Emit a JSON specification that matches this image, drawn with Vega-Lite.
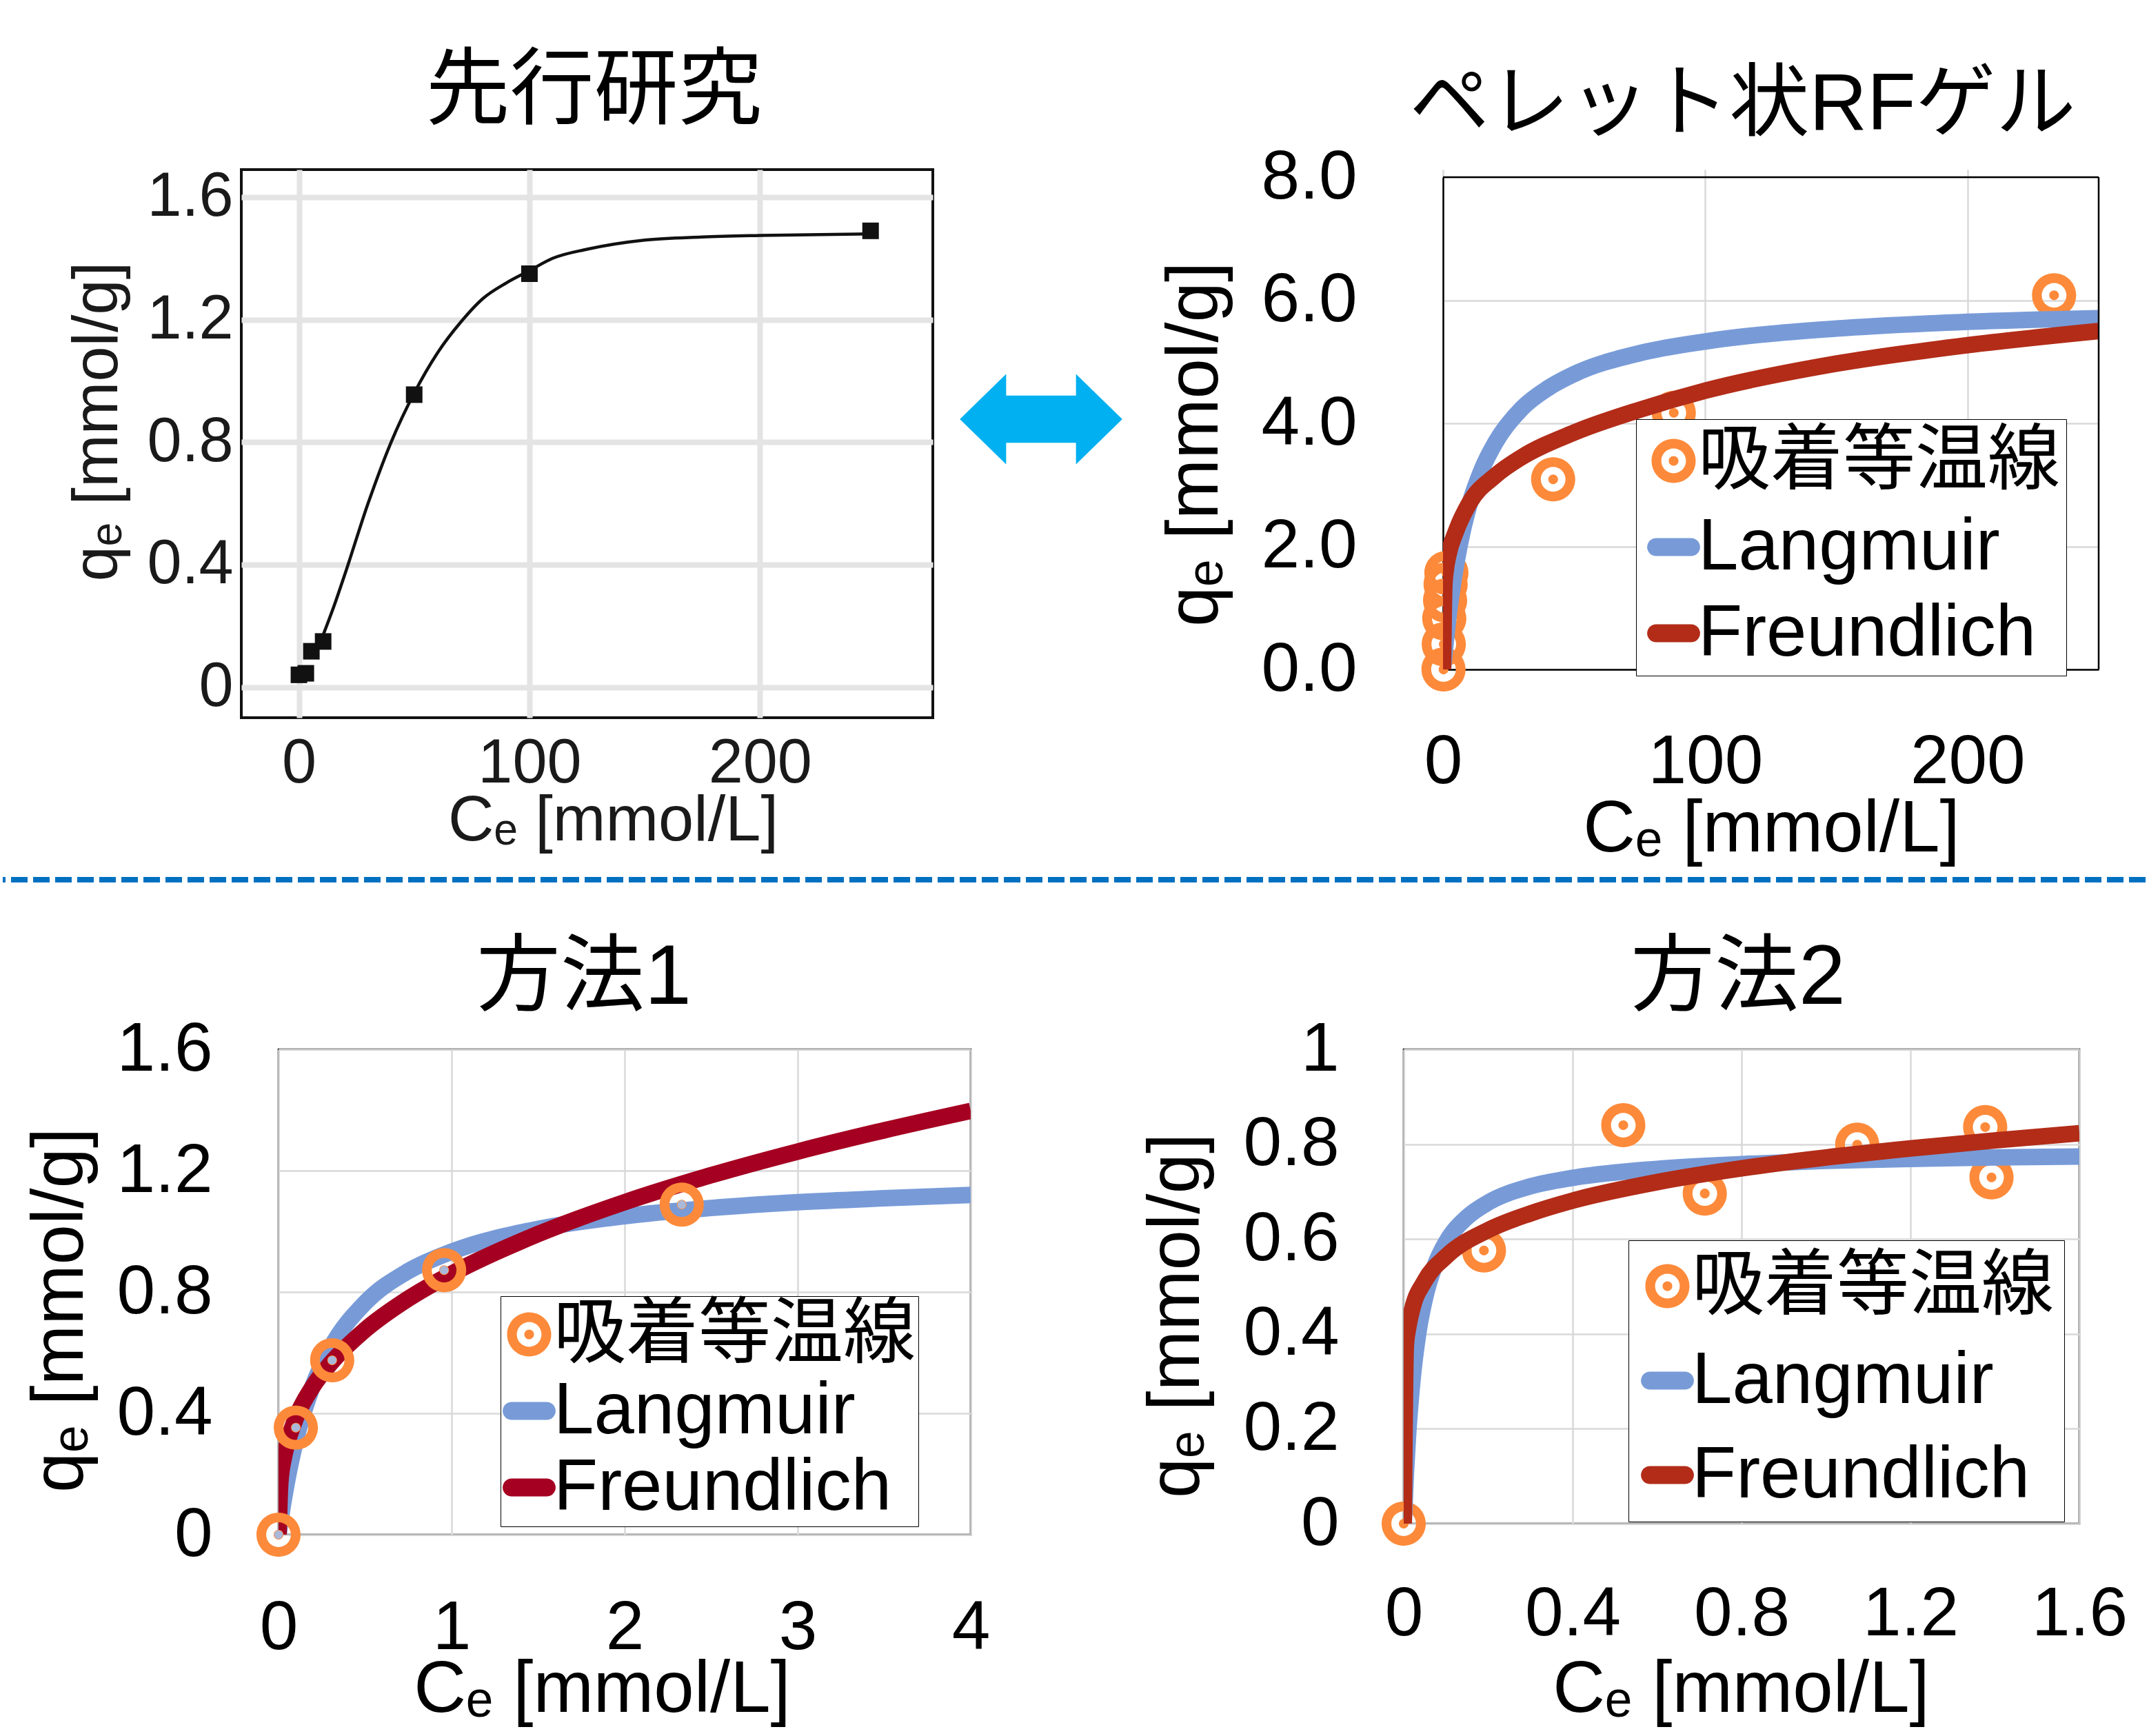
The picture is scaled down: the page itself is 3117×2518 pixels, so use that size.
{
"$schema": "https://vega.github.io/schema/vega-lite/v6.json",
"background": "white",
"padding": {"left": 0, "top": 69, "right": 0, "bottom": 0},
"spacing": 0,
"resolve": {"scale": {"color": "independent", "shape": "independent"}, "legend": {"color": "independent", "shape": "independent"}},
"config": {
  "font": "Liberation Sans, Noto Sans CJK JP, DejaVu Sans",
  "view": {"stroke": "black", "strokeWidth": 2.5},
  "axis": {"labelFont": "Liberation Sans, Noto Sans CJK JP, DejaVu Sans", "titleFont": "Liberation Sans, Noto Sans CJK JP, DejaVu Sans", "labelFontSize": 100, "titleFontSize": 105, "labelColor": "black", "titleColor": "black", "titleFontWeight": "normal", "ticks": false, "tickSize": 0, "domain": false, "grid": true, "gridColor": "#d9d9d9", "gridWidth": 2.5, "labelFlush": false, "labelOverlap": false, "labelLimit": 1000, "titleLimit": 2000},
  "title": {"font": "Liberation Sans, Noto Sans CJK JP, DejaVu Sans", "fontSize": 122, "fontWeight": "normal", "color": "black", "anchor": "middle"},
  "legend": {"labelFont": "Liberation Sans, Noto Sans CJK JP, DejaVu Sans", "labelFontSize": 105, "labelColor": "black", "labelLimit": 2000, "symbolSize": 4096, "symbolStrokeWidth": 0, "fillColor": "white", "strokeColor": "black", "direction": "vertical"}
},
"datasets": {
  "tl_pts": [{"c":0,"q":0.04},{"c":3,"q":0.045},{"c":5.4,"q":0.117},{"c":10.5,"q":0.149},{"c":50,"q":0.955},{"c":100,"q":1.35},{"c":248,"q":1.49}],
  "tl_curve": [{"c":10,"q":0.16},{"c":15,"q":0.26},{"c":20,"q":0.37},{"c":30,"q":0.6},{"c":40,"q":0.8},{"c":50,"q":0.96},{"c":60,"q":1.09},{"c":70,"q":1.19},{"c":80,"q":1.27},{"c":90,"q":1.32},{"c":100,"q":1.36},{"c":110,"q":1.4},{"c":125,"q":1.43},{"c":150,"q":1.46},{"c":175,"q":1.47},{"c":200,"q":1.475},{"c":248,"q":1.48}],
  "tr_pts": [{"c":0.2,"q":0,"series":"吸着等温線"},{"c":0.3,"q":0.41,"series":"吸着等温線"},{"c":0.5,"q":0.83,"series":"吸着等温線"},{"c":0.8,"q":1.12,"series":"吸着等温線"},{"c":1.0,"q":1.38,"series":"吸着等温線"},{"c":1.3,"q":1.57,"series":"吸着等温線"},{"c":42,"q":3.09,"series":"吸着等温線"},{"c":88,"q":4.17,"series":"吸着等温線"},{"c":233,"q":6.08,"series":"吸着等温線"}],
  "tr_lang": [{"c":0,"q":0},{"c":0.5,"q":0.23},{"c":1,"q":0.44},{"c":2,"q":0.83},{"c":3,"q":1.16},{"c":5,"q":1.71},{"c":7.5,"q":2.25},{"c":10,"q":2.67},{"c":15,"q":3.27},{"c":20,"q":3.69},{"c":30,"q":4.24},{"c":40,"q":4.57},{"c":50,"q":4.8},{"c":75,"q":5.14},{"c":100,"q":5.33},{"c":150,"q":5.54},{"c":200,"q":5.65},{"c":250,"q":5.71}],
  "tr_freu": [{"c":0,"q":0},{"c":0.5,"q":1.35},{"c":1,"q":1.6},{"c":2,"q":1.85},{"c":5,"q":2.25},{"c":10,"q":2.7},{"c":20,"q":3.15},{"c":30,"q":3.45},{"c":50,"q":3.85},{"c":75,"q":4.22},{"c":100,"q":4.53},{"c":150,"q":4.97},{"c":200,"q":5.27},{"c":250,"q":5.5}],
  "bl_pts": [{"c":0,"q":0,"series":"吸着等温線"},{"c":0.1,"q":0.353,"series":"吸着等温線"},{"c":0.31,"q":0.575,"series":"吸着等温線"},{"c":0.957,"q":0.872,"series":"吸着等温線"},{"c":2.33,"q":1.088,"series":"吸着等温線"}],
  "bl_lang": [{"c":0,"q":0},{"c":0.02,"q":0.079},{"c":0.05,"q":0.179},{"c":0.1,"q":0.311},{"c":0.2,"q":0.494},{"c":0.3,"q":0.615},{"c":0.5,"q":0.764},{"c":0.75,"q":0.869},{"c":1,"q":0.933},{"c":1.5,"q":1.008},{"c":2,"q":1.05},{"c":2.5,"q":1.077},{"c":3,"q":1.096},{"c":3.5,"q":1.109},{"c":4,"q":1.12}],
  "bl_freu": [{"c":0,"q":0},{"c":0.01,"q":0.17},{"c":0.03,"q":0.252},{"c":0.05,"q":0.3},{"c":0.1,"q":0.384},{"c":0.2,"q":0.49},{"c":0.3,"q":0.564},{"c":0.5,"q":0.675},{"c":0.75,"q":0.778},{"c":1,"q":0.86},{"c":1.5,"q":0.991},{"c":2,"q":1.096},{"c":2.5,"q":1.185},{"c":3,"q":1.263},{"c":3.5,"q":1.333},{"c":4,"q":1.397}],
  "br_pts": [{"c":0,"q":0,"series":"吸着等温線"},{"c":0.19,"q":0.576,"series":"吸着等温線"},{"c":0.52,"q":0.84,"series":"吸着等温線"},{"c":0.713,"q":0.696,"series":"吸着等温線"},{"c":1.074,"q":0.799,"series":"吸着等温線"},{"c":1.377,"q":0.836,"series":"吸着等温線"},{"c":1.392,"q":0.73,"series":"吸着等温線"}],
  "br_lang": [{"c":0,"q":0},{"c":0.005,"q":0.103},{"c":0.01,"q":0.182},{"c":0.02,"q":0.296},{"c":0.035,"q":0.405},{"c":0.05,"q":0.474},{"c":0.075,"q":0.547},{"c":0.1,"q":0.593},{"c":0.15,"q":0.646},{"c":0.2,"q":0.677},{"c":0.3,"q":0.711},{"c":0.4,"q":0.729},{"c":0.6,"q":0.748},{"c":0.8,"q":0.758},{"c":1.0,"q":0.765},{"c":1.2,"q":0.769},{"c":1.4,"q":0.772},{"c":1.6,"q":0.774}],
  "br_freu": [{"c":0,"q":0},{"c":0.005,"q":0.374},{"c":0.01,"q":0.41},{"c":0.02,"q":0.452},{"c":0.05,"q":0.512},{"c":0.1,"q":0.563},{"c":0.2,"q":0.619},{"c":0.3,"q":0.654},{"c":0.4,"q":0.681},{"c":0.6,"q":0.72},{"c":0.8,"q":0.749},{"c":1.0,"q":0.772},{"c":1.2,"q":0.791},{"c":1.4,"q":0.808},{"c":1.6,"q":0.823}]
},
"vconcat": [
 {"hconcat": [
   {"width": 346, "height": 795, "data": {"values": []}, "mark": {"type": "point", "opacity": 0}, "encoding": {}, "view": {"stroke": null}},
   {"width": 1003, "height": 795,
    "title": {"text": "先行研究", "offset": 45, "dx": 10},
    "view": {"stroke": "#111111", "strokeWidth": 4},
    "layer": [
     {"data": {"name": "tl_curve"},
      "mark": {"type": "line", "color": "#111111", "strokeWidth": 4.5, "interpolate": "monotone"},
      "encoding": {
       "x": {"field": "c", "type": "quantitative", "scale": {"domain": [-25, 275], "nice": false, "zero": false},
             "axis": {"values": [0, 100, 200], "format": "d", "title": "Cₑ [mmol/L]", "labelFontSize": 90, "titleFontSize": 92, "labelPadding": 22, "titlePadding": -7, "titleX": 539, "gridColor": "#e4e4e4", "gridWidth": 8, "labelColor": "#1a1a1a", "titleColor": "#1a1a1a"}},
       "y": {"field": "q", "type": "quantitative", "scale": {"domain": [-0.1, 1.69], "nice": false, "zero": false},
             "axis": {"values": [0, 0.4, 0.8, 1.2, 1.6], "format": "~g", "title": "qₑ [mmol/g]", "labelFontSize": 90, "titleFontSize": 92, "labelPadding": 12, "titlePadding": 24, "titleY": 365, "gridColor": "#e4e4e4", "gridWidth": 8, "labelColor": "#1a1a1a", "titleColor": "#1a1a1a"}}
      }},
     {"data": {"name": "tl_pts"},
      "mark": {"type": "point", "shape": "square", "filled": true, "color": "#111111", "size": 576, "opacity": 1},
      "encoding": {"x": {"field": "c", "type": "quantitative"}, "y": {"field": "q", "type": "quantitative"}}}
    ]},
   {"width": 740, "height": 795, "data": {"values": [{"symbol": "double arrow"}]},
    "mark": {"type": "point", "shape": "M-1,0L-0.43,-0.556L-0.43,-0.29L0.43,-0.29L0.43,-0.556L1,0L0.43,0.556L0.43,0.29L-0.43,0.29L-0.43,0.556Z", "size": 55507, "filled": true, "color": "#00b0f0", "opacity": 1, "strokeWidth": 0},
    "encoding": {
      "x": {"datum": 157, "type": "quantitative", "scale": {"domain": [0, 740], "nice": false, "zero": false}, "axis": null},
      "y": {"datum": 433, "type": "quantitative", "scale": {"domain": [0, 795], "nice": false, "zero": false}, "axis": null}},
    "view": {"stroke": null}},
   {"width": 951, "height": 725,
    "title": {"text": "ペレット状RFゲル", "offset": -5, "dx": -41, "fontSize": 116},
    "view": {"stroke": null},
    "layer": [
     {"data": {"name": "tr_pts"},
      "mark": {"type": "point", "filled": true, "opacity": 1, "size": 4096, "clip": false, "strokeWidth": 0},
      "encoding": {
       "x": {"field": "c", "type": "quantitative", "scale": {"domain": [0, 250], "nice": false, "zero": false},
             "axis": {"values": [0, 100, 200], "format": "d", "title": "Cₑ [mmol/L]", "labelPadding": 85, "titlePadding": -4, "titleX": 476, "domain": true, "domainColor": "black", "domainWidth": 2.5}},
       "y": {"field": "q", "type": "quantitative", "scale": {"domain": [0, 8], "range": [725, 11], "nice": false, "zero": false},
             "axis": {"values": [0, 2, 4, 6, 8], "format": ".1f", "title": "qₑ [mmol/g]", "labelPadding": 125, "titlePadding": 106, "titleY": 398, "domain": true, "domainColor": "black", "domainWidth": 2.5}},
       "color": {"field": "series", "type": "nominal", "scale": {"domain": ["吸着等温線", "Langmuir", "Freundlich"], "range": ["#fd8a3a", "#789bd8", "#b22c18"]},
                 "legend": {"title": null, "orient": "none", "legendX": 280, "legendY": 362, "padding": 8, "rowPadding": 19, "symbolOffset": -6, "labelOffset": -17, "encode": {"legend": {"update": {"strokeWidth": {"value": 2.5}}}}}},
       "shape": {"field": "series", "type": "nominal", "scale": {"domain": ["吸着等温線", "Langmuir", "Freundlich"], "range": ["M1,0A1,1,0,1,1,-1,0A1,1,0,1,1,1,0ZM0.56,0A0.56,0.56,0,1,0,-0.56,0A0.56,0.56,0,1,0,0.56,0ZM0.22,0A0.22,0.22,0,1,1,-0.22,0A0.22,0.22,0,1,1,0.22,0Z", "M-0.79,-0.41H0.79A0.41,0.41,0,0,1,0.79,0.41H-0.79A0.41,0.41,0,0,1,-0.79,-0.41Z", "M-0.79,-0.41H0.79A0.41,0.41,0,0,1,0.79,0.41H-0.79A0.41,0.41,0,0,1,-0.79,-0.41Z"]},
                 "legend": {"title": null, "orient": "none", "legendX": 280, "legendY": 362, "padding": 8, "rowPadding": 19, "symbolOffset": -6, "labelOffset": -17, "encode": {"legend": {"update": {"strokeWidth": {"value": 2.5}}}}}}
      }},
     {"data": {"name": "tr_lang"},
      "mark": {"type": "line", "color": "#789bd8", "strokeWidth": 24, "clip": true, "interpolate": "monotone", "strokeCap": "butt"},
      "encoding": {"x": {"field": "c", "type": "quantitative"}, "y": {"field": "q", "type": "quantitative"}}},
     {"data": {"name": "tr_freu"},
      "mark": {"type": "line", "color": "#b22c18", "strokeWidth": 24, "clip": true, "interpolate": "monotone", "strokeCap": "butt"},
      "encoding": {"x": {"field": "c", "type": "quantitative"}, "y": {"field": "q", "type": "quantitative"}}},
     {"data": {"values": [{"frame": "top edge"}]},
      "mark": {"type": "rule", "color": "black", "strokeWidth": 2.5},
      "encoding": {"y": {"datum": 8, "type": "quantitative"}}},
     {"data": {"values": [{"frame": "right edge"}]},
      "mark": {"type": "rule", "color": "black", "strokeWidth": 2.5},
      "encoding": {"x": {"datum": 250, "type": "quantitative"}, "y": {"datum": 0, "type": "quantitative"}, "y2": {"datum": 8}}}
    ]}
  ], "spacing": 0, "bounds": "flush",
  "resolve": {"scale": {"color": "independent", "shape": "independent"}, "legend": {"color": "independent", "shape": "independent"}}},
 {"width": 3108, "height": 101, "data": {"values": [{"separator": "dashed"}]},
  "mark": {"type": "rule", "color": "#0070c0", "strokeWidth": 8, "strokeDash": [24, 8]},
  "encoding": {"y": {"datum": 80, "type": "quantitative", "scale": {"domain": [0, 101], "nice": false, "zero": false}, "axis": null}},
  "view": {"stroke": null}},
 {"hconcat": [
   {"width": 400, "height": 704, "data": {"values": []}, "mark": {"type": "point", "opacity": 0}, "encoding": {}, "view": {"stroke": null}},
   {"width": 1004, "height": 704,
    "title": {"text": "方法1", "offset": -10, "dx": -59},
    "layer": [
     {"data": {"name": "bl_lang"},
      "mark": {"type": "line", "color": "#789bd8", "strokeWidth": 24, "clip": true, "interpolate": "monotone", "strokeCap": "butt"},
      "encoding": {
       "x": {"field": "c", "type": "quantitative", "scale": {"domain": [0, 4], "nice": false, "zero": false},
             "axis": {"values": [0, 1, 2, 3, 4], "format": "d", "title": "Cₑ [mmol/L]", "labelPadding": 86, "titlePadding": -12, "titleX": 469}},
       "y": {"field": "q", "type": "quantitative", "scale": {"domain": [0, 1.6], "nice": false, "zero": false},
             "axis": {"values": [0, 0.4, 0.8, 1.2, 1.6], "format": "~g", "title": "qₑ [mmol/g]", "labelPadding": 96, "titlePadding": 63, "titleY": 378}}
      }},
     {"data": {"name": "bl_freu"},
      "mark": {"type": "line", "color": "#a50021", "strokeWidth": 24, "clip": true, "interpolate": "monotone", "strokeCap": "butt"},
      "encoding": {"x": {"field": "c", "type": "quantitative"}, "y": {"field": "q", "type": "quantitative"}}},
     {"data": {"name": "bl_pts"},
      "mark": {"type": "point", "filled": true, "opacity": 1, "size": 4096, "clip": false, "strokeWidth": 0},
      "encoding": {
       "x": {"field": "c", "type": "quantitative"},
       "y": {"field": "q", "type": "quantitative"},
       "color": {"field": "series", "type": "nominal", "scale": {"domain": ["吸着等温線", "Langmuir", "Freundlich"], "range": ["#fd8a3a", "#789bd8", "#a50021"]},
                 "legend": {"title": null, "orient": "none", "legendX": 322, "legendY": 358, "padding": 3, "rowPadding": 5, "symbolOffset": -14, "labelOffset": -17, "encode": {"legend": {"update": {"strokeWidth": {"value": 2.5}}}}}},
       "shape": {"field": "series", "type": "nominal", "scale": {"domain": ["吸着等温線", "Langmuir", "Freundlich"], "range": ["M1,0A1,1,0,1,1,-1,0A1,1,0,1,1,1,0ZM0.56,0A0.56,0.56,0,1,0,-0.56,0A0.56,0.56,0,1,0,0.56,0ZM0.22,0A0.22,0.22,0,1,1,-0.22,0A0.22,0.22,0,1,1,0.22,0Z", "M-0.79,-0.41H0.79A0.41,0.41,0,0,1,0.79,0.41H-0.79A0.41,0.41,0,0,1,-0.79,-0.41Z", "M-0.79,-0.41H0.79A0.41,0.41,0,0,1,0.79,0.41H-0.79A0.41,0.41,0,0,1,-0.79,-0.41Z"]},
                 "legend": {"title": null, "orient": "none", "legendX": 322, "legendY": 358, "padding": 3, "rowPadding": 5, "symbolOffset": -14, "labelOffset": -17, "encode": {"legend": {"update": {"strokeWidth": {"value": 2.5}}}}}}
      }},
     {"data": {"name": "bl_pts"},
      "mark": {"type": "point", "shape": "circle", "filled": true, "opacity": 1, "size": 154, "color": "#aab9d9", "clip": false},
      "encoding": {"x": {"field": "c", "type": "quantitative"}, "y": {"field": "q", "type": "quantitative"}}}
    ]},
   {"width": 628, "height": 704, "data": {"values": []}, "mark": {"type": "point", "opacity": 0}, "encoding": {}, "view": {"stroke": null}},
   {"width": 980, "height": 688,
    "title": {"text": "方法2", "offset": -10, "dx": -5},
    "layer": [
     {"data": {"name": "br_pts"},
      "mark": {"type": "point", "filled": true, "opacity": 1, "size": 4096, "clip": false, "strokeWidth": 0},
      "encoding": {
       "x": {"field": "c", "type": "quantitative", "scale": {"domain": [0, 1.6], "nice": false, "zero": false},
             "axis": {"values": [0, 0.4, 0.8, 1.2, 1.6], "format": "~g", "title": "Cₑ [mmol/L]", "labelPadding": 82, "titlePadding": 8, "titleX": 489}},
       "y": {"field": "q", "type": "quantitative", "scale": {"domain": [0, 1], "nice": false, "zero": false},
             "axis": {"values": [0, 0.2, 0.4, 0.6, 0.8, 1], "format": "~g", "title": "qₑ [mmol/g]", "labelPadding": 94, "titlePadding": 76, "titleY": 386}},
       "color": {"field": "series", "type": "nominal", "scale": {"domain": ["吸着等温線", "Langmuir", "Freundlich"], "range": ["#fd8a3a", "#789bd8", "#b22c18"]},
                 "legend": {"title": null, "orient": "none", "legendX": 326, "legendY": 277, "padding": 14, "rowPadding": 31, "symbolOffset": -10, "labelOffset": -17, "encode": {"legend": {"update": {"strokeWidth": {"value": 2.5}}}}}},
       "shape": {"field": "series", "type": "nominal", "scale": {"domain": ["吸着等温線", "Langmuir", "Freundlich"], "range": ["M1,0A1,1,0,1,1,-1,0A1,1,0,1,1,1,0ZM0.56,0A0.56,0.56,0,1,0,-0.56,0A0.56,0.56,0,1,0,0.56,0ZM0.22,0A0.22,0.22,0,1,1,-0.22,0A0.22,0.22,0,1,1,0.22,0Z", "M-0.79,-0.41H0.79A0.41,0.41,0,0,1,0.79,0.41H-0.79A0.41,0.41,0,0,1,-0.79,-0.41Z", "M-0.79,-0.41H0.79A0.41,0.41,0,0,1,0.79,0.41H-0.79A0.41,0.41,0,0,1,-0.79,-0.41Z"]},
                 "legend": {"title": null, "orient": "none", "legendX": 326, "legendY": 277, "padding": 14, "rowPadding": 31, "symbolOffset": -10, "labelOffset": -17, "encode": {"legend": {"update": {"strokeWidth": {"value": 2.5}}}}}}
      }},
     {"data": {"name": "br_lang"},
      "mark": {"type": "line", "color": "#789bd8", "strokeWidth": 24, "clip": true, "interpolate": "monotone", "strokeCap": "butt"},
      "encoding": {"x": {"field": "c", "type": "quantitative"}, "y": {"field": "q", "type": "quantitative"}}},
     {"data": {"name": "br_freu"},
      "mark": {"type": "line", "color": "#b22c18", "strokeWidth": 24, "clip": true, "interpolate": "monotone", "strokeCap": "butt"},
      "encoding": {"x": {"field": "c", "type": "quantitative"}, "y": {"field": "q", "type": "quantitative"}}}
    ]}
  ], "spacing": 0, "bounds": "flush",
  "resolve": {"scale": {"color": "independent", "shape": "independent"}, "legend": {"color": "independent", "shape": "independent"}}}
]
}
